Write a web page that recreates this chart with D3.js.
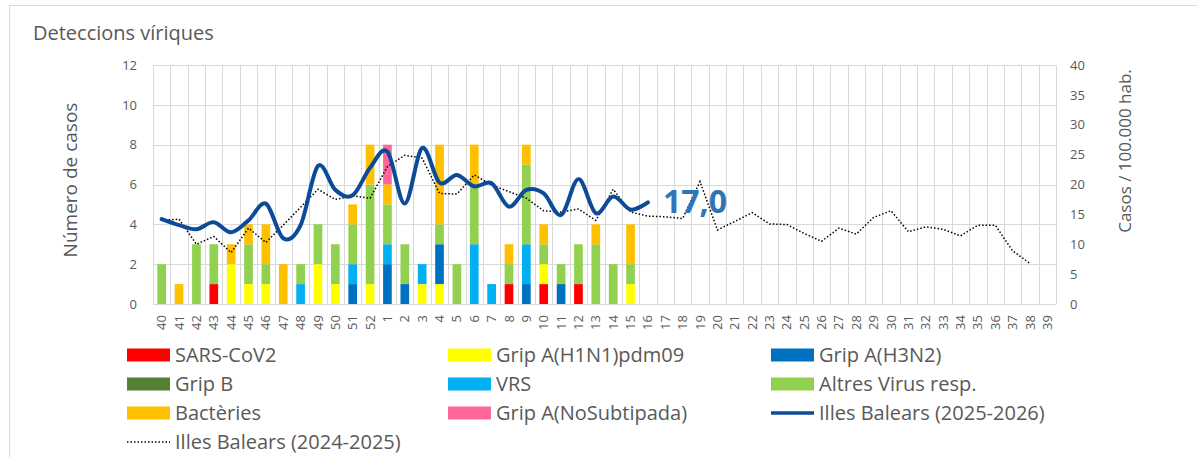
<!DOCTYPE html>
<html>
<head>
<meta charset="utf-8">
<script src="https://cdn.jsdelivr.net/npm/d3@7"></script>
<style>
  body { margin: 0; background: #fff; }
  svg { display: block; font-family: "Open Sans", sans-serif; }
</style>
</head>
<body>
<svg id="chart" width="1197" height="457"></svg>
<script>
// weeks 40..52 then 1..39
const weeks = d3.range(40, 53).concat(d3.range(1, 40)).map(String);

// counts per week, from week 40 to week 15
const sars   = [0,0,0,1,0,0,0,0,0,0,0,0,0, 0,0,0,0,0,0,0,1,0,1,0,1,0,0,0];
const h1n1   = [0,0,0,0,2,1,1,0,0,2,1,0,1, 0,0,1,1,0,0,0,0,0,1,0,0,0,0,1];
const h3n2   = [0,0,0,0,0,0,0,0,0,0,0,1,0, 2,1,0,2,0,0,0,0,1,0,1,0,0,0,0];
const gripB  = [0,0,0,0,0,0,0,0,0,0,0,0,0, 0,0,0,0,0,0,0,0,0,0,0,0,0,0,0];
const vrs    = [0,0,0,0,0,0,0,0,1,0,0,1,0, 1,0,1,0,0,3,1,0,2,0,0,0,0,0,0];
const altres = [2,0,3,2,0,2,1,0,1,2,2,2,5, 2,2,0,1,2,3,0,1,4,1,1,2,3,2,1];
const bact   = [0,1,0,0,1,1,2,2,0,0,0,1,2, 1,0,0,4,0,2,0,1,1,1,0,0,1,0,2];
const noSub  = [0,0,0,0,0,0,0,0,0,0,0,0,0, 2,0,0,0,0,0,0,0,0,0,0,0,0,0,0];

// rate per 100.000 inhabitants
const rate2526 = [14.2,13.2,12.5,13.7,12.0,14.0,16.8,11.0,13.2,23.1,19.1,18.2,22.8,
                  25.5,16.8,26.1,20.3,21.6,19.7,20.2,16.3,19.1,18.5,14.9,20.9,15.2,18.0,15.8,17.0];
const rate2425 = [14.0,14.2,10.0,11.3,8.6,12.7,10.3,13.2,16.2,19.2,17.5,18.1,17.7,
                  23.0,24.9,24.4,18.5,18.4,21.6,19.9,18.8,17.7,15.6,15.4,15.9,14.0,19.2,15.4,
                  14.7,14.6,14.3,20.5,12.4,13.8,15.3,13.4,13.3,11.8,10.5,12.7,11.7,14.5,15.6,
                  12.1,12.9,12.5,11.4,13.2,13.2,8.9,6.8];

const leftTicks = d3.range(0, 13, 2);
const rightTicks = d3.range(0, 41, 5);

const series = [
    {key: "SARS-CoV2", values: sars, color: "#ff0000"},
    {key: "Grip A(H1N1)pdm09", values: h1n1, color: "#ffff00"},
    {key: "Grip A(H3N2)", values: h3n2, color: "#0070c0"},
    {key: "Grip B", values: gripB, color: "#548235"},
    {key: "VRS", values: vrs, color: "#00b0f0"},
    {key: "Altres Virus resp.", values: altres, color: "#92d050"},
    {key: "Bactèries", values: bact, color: "#ffc000"},
    {key: "Grip A(NoSubtipada)", values: noSub, color: "#ff6699"}
];
const lineColor = "#0d4b98";
const textColor = "#595959";
const gridColor = "#d9d9d9";

const svg = d3.select("#chart");
const plot = {left: 153, right: 1056, top: 65, bottom: 304};

// outer frame
svg.append("rect")
    .attr("x", 9.5).attr("y", 5.5)
    .attr("width", 1200).attr("height", 500)
    .attr("fill", "none")
    .attr("stroke", gridColor);

const x = d3.scaleBand().domain(weeks).range([plot.left, plot.right]).paddingInner(0.5).paddingOuter(0.25);
const step = x.step();
const yL = d3.scaleLinear().domain([0, 12]).range([plot.bottom, plot.top]);
const yR = d3.scaleLinear().domain([0, 40]).range([plot.bottom, plot.top]);

// grid
const grid = svg.append("g").attr("stroke", gridColor).attr("stroke-width", 1);
grid.selectAll(".h")
    .data(leftTicks)
    .join("line")
    .attr("x1", plot.left).attr("x2", plot.right)
    .attr("y1", d => Math.round(yL(d)) + 0.5).attr("y2", d => Math.round(yL(d)) + 0.5);
grid.selectAll(".v")
    .data(weeks.concat(["end"]))
    .join("line")
    .attr("x1", (d, i) => Math.round(plot.left + i * step) + 0.5)
    .attr("x2", (d, i) => Math.round(plot.left + i * step) + 0.5)
    .attr("y1", plot.top).attr("y2", plot.bottom);

// stacked bars
const rows = weeks.map((w, i) => {
    const r = {week: w};
    series.forEach(s => r[s.key] = s.values[i] || 0);
    return r;
});
const stacked = d3.stack().keys(series.map(s => s.key))(rows);

svg.append("g")
    .selectAll("g")
    .data(stacked)
    .join("g")
    .attr("fill", (d, i) => series[i].color)
    .selectAll("rect")
    .data(d => d.filter(e => e[1] > e[0]))
    .join("rect")
    .attr("x", d => x(d.data.week))
    .attr("width", x.bandwidth())
    .attr("y", d => yL(d[1]))
    .attr("height", d => yL(d[0]) - yL(d[1]));

// lines
const line = d3.line()
    .x((d, i) => x(weeks[i]) + x.bandwidth() / 2)
    .y(d => yR(d));

svg.append("path")
    .datum(rate2425)
    .attr("fill", "none")
    .attr("stroke", "#000")
    .attr("stroke-width", 1.5)
    .attr("stroke-dasharray", "1.5,2")
    .attr("d", line);

svg.append("path")
    .datum(rate2526)
    .attr("fill", "none")
    .attr("stroke", lineColor)
    .attr("stroke-width", 4)
    .attr("stroke-linecap", "round")
    .attr("d", line.curve(d3.curveCardinal.tension(0)));

// last value label
const lastI = rate2526.length - 1;
svg.append("text")
    .attr("x", x(weeks[lastI]) + x.bandwidth() / 2 + 15)
    .attr("y", yR(rate2526[lastI]) + 11)
    .attr("fill", "#2e75b6")
    .style("font-size", "32px")
    .style("font-weight", "bold")
    .text(rate2526[lastI].toFixed(1).replace(".", ","));

// axes
const axL = svg.append("g")
    .attr("transform", `translate(${plot.left},0)`)
    .call(d3.axisLeft(yL).tickValues(leftTicks).tickSize(0).tickPadding(16));
const axR = svg.append("g")
    .attr("transform", `translate(${plot.right},0)`)
    .call(d3.axisRight(yR).tickValues(rightTicks).tickSize(0).tickPadding(14));
const axX = svg.append("g")
    .attr("transform", `translate(0,${plot.bottom})`)
    .call(d3.axisBottom(x).tickSize(0));
axX.selectAll("text")
    .attr("y", 0)
    .attr("x", -11)
    .attr("dy", "0.35em")
    .attr("transform", "rotate(-90)")
    .style("text-anchor", "end");

[axL, axR, axX].forEach(a => {
    a.select(".domain").remove();
    a.selectAll("text")
        .attr("fill", textColor)
        .style("font-size", "13px")
        .style("font-family", "'Open Sans', sans-serif");
});
axX.append("line")
    .attr("x1", plot.left).attr("x2", plot.right)
    .attr("y1", 0.5).attr("y2", 0.5)
    .attr("stroke", gridColor);

// titles
svg.append("text")
    .attr("x", 33).attr("y", 40)
    .attr("fill", textColor)
    .style("font-size", "20px")
    .text("Deteccions víriques");

svg.append("text")
    .attr("transform", "translate(77,180) rotate(-90)")
    .attr("text-anchor", "middle")
    .attr("fill", textColor)
    .style("font-size", "19px")
    .text("Número de casos");

svg.append("text")
    .attr("transform", "translate(1131,151) rotate(-90)")
    .attr("text-anchor", "middle")
    .attr("fill", textColor)
    .style("font-size", "17px")
    .text("Casos / 100.000 hab.");

// legend
const legendItems = series.map(s => ({label: s.key, color: s.color, type: "rect"}))
    .concat([
        {label: "Illes Balears (2025-2026)", color: lineColor, type: "solid"},
        {label: "Illes Balears (2024-2025)", color: "#000", type: "dotted"}
    ]);
const colX = [127, 448, 771];
const rowY = [355, 384, 413, 442];

const legend = svg.append("g")
    .selectAll("g")
    .data(legendItems)
    .join("g")
    .attr("transform", (d, i) => `translate(${colX[i % 3]},${rowY[Math.floor(i / 3)]})`);

legend.filter(d => d.type === "rect")
    .append("rect")
    .attr("x", 0).attr("y", -6.5)
    .attr("width", 43).attr("height", 13)
    .attr("fill", d => d.color);

legend.filter(d => d.type !== "rect")
    .append("line")
    .attr("x1", 0).attr("x2", 43)
    .attr("stroke", d => d.color)
    .attr("stroke-width", d => d.type === "solid" ? 3.5 : 1.5)
    .attr("stroke-dasharray", d => d.type === "dotted" ? "1.5,2" : null);

legend.append("text")
    .attr("x", 48)
    .attr("dy", "0.35em")
    .attr("fill", textColor)
    .style("font-size", "20px")
    .text(d => d.label);
</script>
</body>
</html>
